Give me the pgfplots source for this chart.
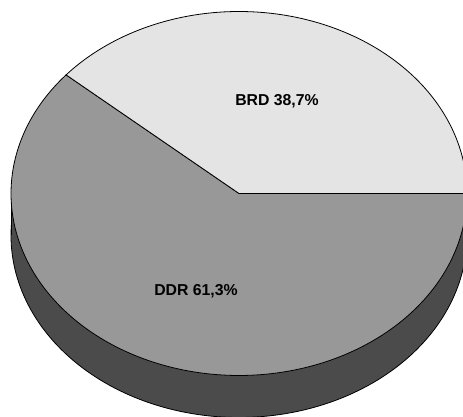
\documentclass[border=0pt]{standalone}
\usepackage{pgfplots}
\pgfplotsset{compat=1.18}
\usepackage{fontspec}
\setmainfont{Liberation Sans}

\definecolor{brdfill}{HTML}{E4E4E4}
\definecolor{ddrfill}{HTML}{989898}
\definecolor{sidefill}{HTML}{4B4B4B}

% shares in percent
\def\shareBRD{38.7}
\def\shareDDR{61.3}
\pgfmathsetmacro\angBRD{3.6*\shareBRD}

% geometry of the pie (centre, radii, thickness)
\def\cx{239}
\def\cy{223.5}
\def\ra{228}
\def\rb{182}
\def\dep{42}
\pgfmathsetmacro\xl{\cx-\ra}
\pgfmathsetmacro\xr{\cx+\ra}
\pgfmathsetmacro\yb{\cy-\dep}

\begin{document}
\begin{tikzpicture}
\begin{axis}[
  width=463pt, height=417pt, scale only axis,
  xmin=0, xmax=463, ymin=0, ymax=417,
  hide axis, clip=true,
]
% side of the cylinder
\addplot[fill=sidefill, draw=black, line width=0.8pt, domain=0:360, samples=241]
  ({\cx+\ra*cos(x)}, {\yb+\rb*sin(x)}) -- cycle;
\addplot[fill=sidefill, draw=none]
  coordinates {(\xl,\yb) (\xr,\yb) (\xr,\cy) (\xl,\cy)} -- cycle;
\addplot[black, line width=0.8pt] coordinates {(\xl,\yb) (\xl,\cy)};
\addplot[black, line width=0.8pt] coordinates {(\xr,\yb) (\xr,\cy)};
% DDR slice
\addplot[fill=ddrfill, draw=black, line width=0.8pt, domain=\angBRD:360, samples=181]
  ({\cx+\ra*cos(x)}, {\cy+\rb*sin(x)}) -- (axis cs:\cx,\cy) -- cycle;
% BRD slice
\addplot[fill=brdfill, draw=black, line width=0.8pt, domain=0:\angBRD, samples=121]
  ({\cx+\ra*cos(x)}, {\cy+\rb*sin(x)}) -- (axis cs:\cx,\cy) -- cycle;
% labels
\node[font=\bfseries\fontsize{15.8}{19}\selectfont] at (axis cs:277,316) {BRD 38,7\%};
\node[font=\bfseries\fontsize{15.8}{19}\selectfont] at (axis cs:196,126) {DDR 61,3\%};
\end{axis}
\pgfresetboundingbox
\useasboundingbox (0,0) rectangle (463pt,417pt);
\end{tikzpicture}
\end{document}
